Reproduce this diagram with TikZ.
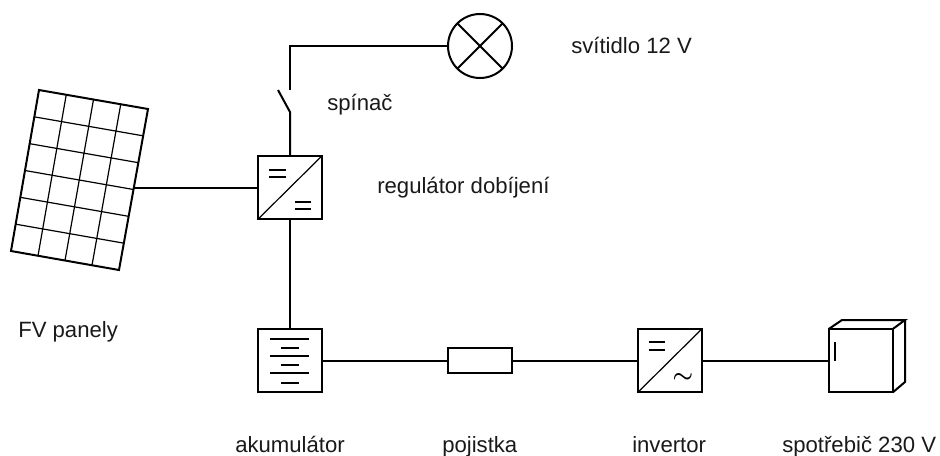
\documentclass[tikz,border=0pt]{standalone}
\usepackage{fontspec}
\setmainfont{Liberation Sans}
\usetikzlibrary{calc}
\tikzset{
    wire/.style={line width=1.5pt, black},
    thinwire/.style={line width=0.9pt, black},
    box/.style={draw, line width=1.5pt, inner sep=0, outer sep=0, minimum width=48pt, minimum height=47.5pt},
    label/.style={anchor=base west, inner sep=0, font=\fontsize{16.6}{20}\selectfont, text=black!90}
}

\begin{document}
\begin{tikzpicture}[x=0.75pt, y=-0.75pt]
    \useasboundingbox (0, 0) rectangle (940, 455);

    % panely
    \coordinate (pa) at (39, 90);
    \coordinate (pb) at (148, 109);
    \coordinate (pc) at (119, 270);
    \coordinate (pd) at (11, 251);
    \coordinate (pr) at (134, 187.5);
    \draw[wire] (pa) -- (pb) -- (pc) -- (pd) -- cycle;
    \foreach \i in {1, 2, 3} {
        \draw[thinwire] ($(pa)!\i/4!(pb)$) -- ($(pd)!\i/4!(pc)$);
    }
    \foreach \i in {1, 2, 3, 4, 5} {
        \draw[thinwire] ($(pa)!\i/6!(pd)$) -- ($(pb)!\i/6!(pc)$);
    }

    % regulator
    \node[box] (reg) at (290, 187.5) {};
    \draw[thinwire] (reg.south west) -- (reg.north east);
    \draw[wire] (269, 170) -- (286, 170) (269, 177) -- (286, 177);
    \draw[wire] (295, 202) -- (311, 202) (295, 209) -- (311, 209);
    \draw[wire] (pr) -- (reg.west);

    % spinac a svitidlo
    \node[draw, circle, line width=1.5pt, inner sep=0, outer sep=0, minimum size=48pt] (lamp) at (480, 46) {};
    \draw[wire] (lamp.north west) -- (lamp.south east);
    \draw[wire] (lamp.north east) -- (lamp.south west);
    \coordinate (swa) at (290, 112);
    \coordinate (swb) at (278, 90);
    \coordinate (swc) at (290, 90);
    \draw[wire] (reg.north) -- (swa) -- (swb);
    \draw[wire] (swc) |- (lamp.west);

    % akumulator
    \node[box] (bat) at (290, 360.5) {};
    \foreach \y in {339, 356, 373} {
        \draw[thinwire] (270, \y) -- (309, \y);
    }
    \foreach \y in {348, 365, 383} {
        \draw[thinwire] (281, \y) -- (299, \y);
    }
    \draw[wire] (reg.south) -- (bat.north);

    % pojistka
    \node[box, minimum height=19pt] (fuse) at (480, 360.5) {};
    \draw[wire] (bat.east) -- (fuse.west);

    % invertor
    \node[box] (inv) at (670, 360.5) {};
    \draw[thinwire] (inv.south west) -- (inv.north east);
    \draw[wire] (649, 342) -- (665, 342) (649, 350) -- (665, 350);
    \node[inner sep=0, font=\fontsize{17}{17}\selectfont\boldmath] (tilde) at (683, 378) {$\sim$};
    \draw[wire] (fuse.east) -- (inv.west);

    % spotrebic
    \node[box] (load) at (861, 360.5) {};
    \draw[wire] (load.north west) -- (842, 320) -- (905, 320) -- (load.north east);
    \draw[wire] (905, 320) -- (905, 382) -- (load.south east);
    \draw[thinwire] (835, 342) -- (835, 361);
    \draw[wire] (inv.east) -- (load.west);

    % popisky
    \node[label] (tlamp) at (571, 53) {svítidlo 12 V};
    \node[label] (tsw) at (327, 110) {spínač};
    \node[label] (treg) at (377, 193) {regulátor dobíjení};
    \node[label] (tpan) at (18, 337) {FV panely};
    \node[label] (tbat) at (235, 452) {akumulátor};
    \node[label] (tfuse) at (442, 452) {pojistka};
    \node[label] (tinv) at (632, 452) {invertor};
    \node[label] (tload) at (782, 452) {spotřebič 230 V};
\end{tikzpicture}
\end{document}
